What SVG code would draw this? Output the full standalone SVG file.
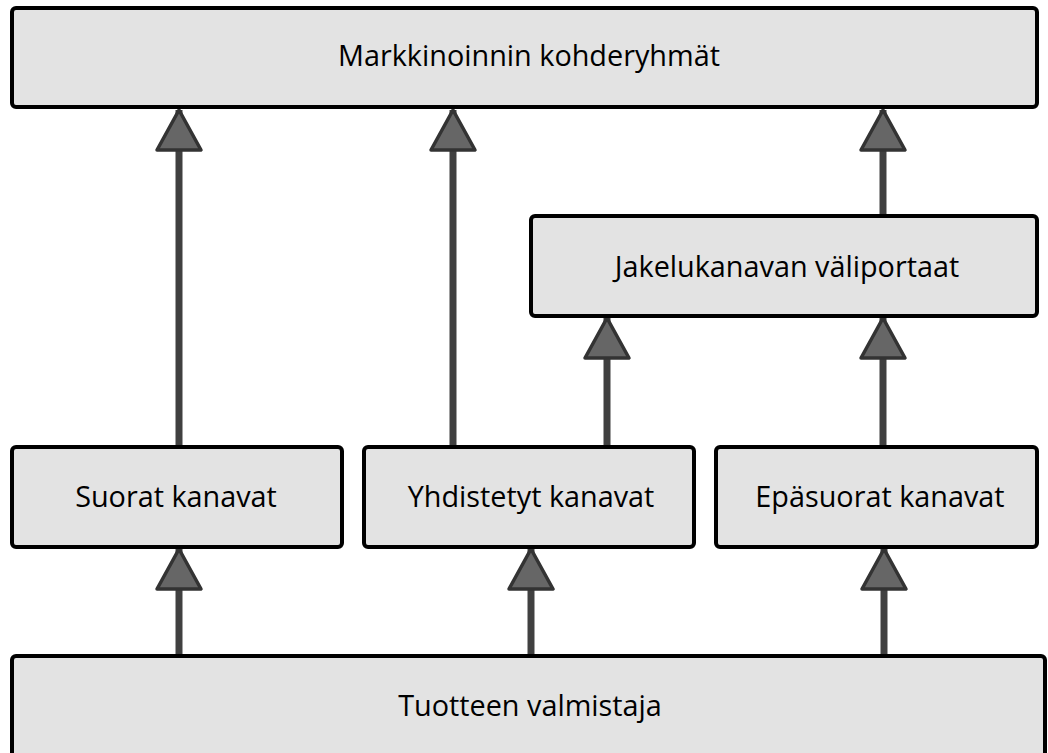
<svg xmlns="http://www.w3.org/2000/svg" width="1048" height="753" viewBox="0 0 1048 753">
<style>
.box{fill:#e3e3e3;stroke:#000;stroke-width:4;}
.lbl{font-family:"Open Sans","Noto Sans",sans-serif;font-size:28.8px;fill:#000;text-anchor:middle;}
.conn{stroke:#404040;stroke-width:7;fill:none;}
</style>
<defs>
<marker id="tri" markerUnits="userSpaceOnUse" markerWidth="50" markerHeight="50" viewBox="0 0 50 50" refX="45" refY="25" orient="auto">
<path d="M5,3 L45,25 L5,47 Z" fill="#666" stroke="#333" stroke-width="3.5" stroke-linejoin="round"/>
</marker>
</defs>
<rect width="1048" height="753" fill="#fff"/>
<g id="connectors">
<path class="conn" d="M179,447 V110" marker-end="url(#tri)"/>
<path class="conn" d="M453,447 V110" marker-end="url(#tri)"/>
<path class="conn" d="M607,447 V318" marker-end="url(#tri)"/>
<path class="conn" d="M883,447 V318" marker-end="url(#tri)"/>
<path class="conn" d="M883,216 V110" marker-end="url(#tri)"/>
<path class="conn" d="M179,656 V549" marker-end="url(#tri)"/>
<path class="conn" d="M531,656 V549" marker-end="url(#tri)"/>
<path class="conn" d="M884,656 V549" marker-end="url(#tri)"/>
</g>
<g id="n-top">
<rect class="box" x="12" y="8" width="1025" height="99" rx="4"/>
<text class="lbl" x="529" y="66">Markkinoinnin kohderyhmät</text>
</g>
<g id="n-jakelu">
<rect class="box" x="531" y="216" width="506" height="100" rx="4"/>
<text class="lbl" x="787" y="277">Jakelukanavan väliportaat</text>
</g>
<g id="n-suorat">
<rect class="box" x="12" y="447" width="330" height="100" rx="4"/>
<text class="lbl" x="176" y="507">Suorat kanavat</text>
</g>
<g id="n-yhdistetyt">
<rect class="box" x="364" y="447" width="330" height="100" rx="4"/>
<text class="lbl" x="531" y="507">Yhdistetyt kanavat</text>
</g>
<g id="n-epasuorat">
<rect class="box" x="716" y="447" width="321" height="100" rx="4"/>
<text class="lbl" x="880" y="507">Epäsuorat kanavat</text>
</g>
<g id="n-bottom">
<rect class="box" x="12" y="656" width="1033" height="120" rx="4"/>
<text class="lbl" x="530" y="716">Tuotteen valmistaja</text>
</g>
</svg>
